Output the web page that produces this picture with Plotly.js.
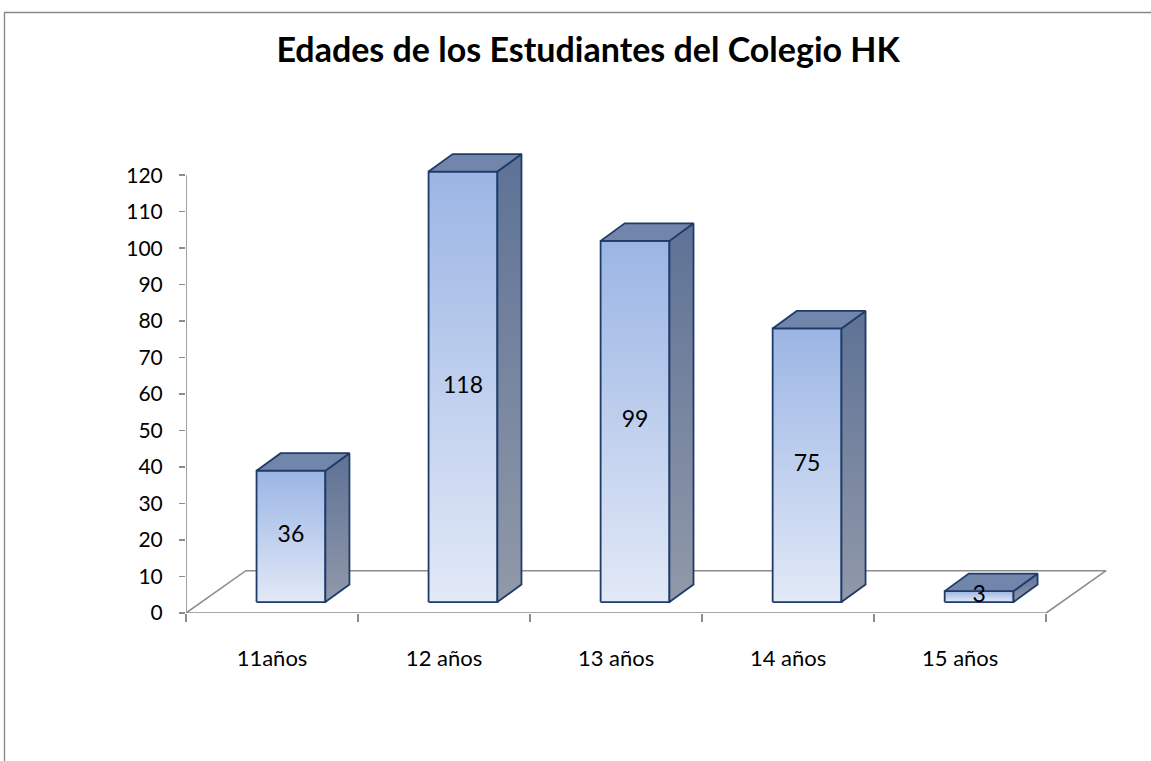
<!DOCTYPE html>
<html>
<head>
<meta charset="utf-8">
<script src="https://cdn.plot.ly/plotly-3.0.1.min.js"></script>
<style>html,body{margin:0;padding:0;background:#fff;}#chart{width:1151px;height:761px;}</style>
</head>
<body>
<div id="chart"></div>
<script>
// ---- data ----
const categories = ['11años', '12 años', '13 años', '14 años', '15 años'];
const values = [36, 118, 99, 75, 3];
const yTickVals = [0, 10, 20, 30, 40, 50, 60, 70, 80, 90, 100, 110, 120];
const chartTitle = 'Edades de los Estudiantes del Colegio HK';

// ---- 3D projection parameters (style) ----
const FLOOR_DX = 0.348, FLOOR_DY = 11.6;   // floor depth offset (axis units)
const BAR_X0 = 0.41, BAR_W = 0.40;          // front face position within category
const BAR_BASE = 3.0;                       // front face sits slightly into the floor
const DEPTH_DX = 0.14, DEPTH_DY = 4.8;      // bar depth offset
const OUTLINE = '#1f3b68';
const FONT = 'Lato, "Open Sans", "Liberation Sans", sans-serif';

const n = categories.length;
const traces = [];

// floor
traces.push({
  type: 'scatter', mode: 'lines', hoverinfo: 'skip', showlegend: false,
  x: [0, n, n + FLOOR_DX, FLOOR_DX, 0],
  y: [0, 0, FLOOR_DY, FLOOR_DY, 0],
  fill: 'toself', fillcolor: '#ffffff',
  line: {color: '#8c8c8c', width: 1.6}
});
// y axis line
traces.push({
  type: 'scatter', mode: 'lines', hoverinfo: 'skip', showlegend: false,
  x: [0, 0], y: [0, yTickVals[yTickVals.length - 1]],
  line: {color: '#8c8c8c', width: 1.6}
});

const tx = [], ty = [], tt = [];
values.forEach((v, i) => {
  const x0 = i + BAR_X0, x1 = x0 + BAR_W;
  const y0 = BAR_BASE, y1 = BAR_BASE + v;
  // front face
  traces.push({
    type: 'scatter', mode: 'lines', hoverinfo: 'skip', showlegend: false,
    x: [x0, x1, x1, x0, x0], y: [y0, y0, y1, y1, y0],
    fill: 'toself',
    fillgradient: {type: 'vertical', start: y0, stop: y1,
      colorscale: [[0, '#e2e9f7'], [1, '#9bb5e4']]},
    line: {color: OUTLINE, width: 1.8}
  });
  // side face
  traces.push({
    type: 'scatter', mode: 'lines', hoverinfo: 'skip', showlegend: false,
    x: [x1, x1 + DEPTH_DX, x1 + DEPTH_DX, x1, x1],
    y: [y0, y0 + DEPTH_DY, y1 + DEPTH_DY, y1, y0],
    fill: 'toself',
    fillgradient: {type: 'vertical', start: y0, stop: y1 + DEPTH_DY,
      colorscale: [[0, '#9199a9'], [1, '#5e7296']]},
    line: {color: OUTLINE, width: 1.8}
  });
  // top face
  traces.push({
    type: 'scatter', mode: 'lines', hoverinfo: 'skip', showlegend: false,
    x: [x0, x1, x1 + DEPTH_DX, x0 + DEPTH_DX, x0],
    y: [y1, y1, y1 + DEPTH_DY, y1 + DEPTH_DY, y1],
    fill: 'toself', fillcolor: '#7286ac',
    line: {color: OUTLINE, width: 1.8}
  });
  tx.push(x0 + BAR_W / 2); ty.push(y0 + v / 2); tt.push(String(v));
});
// value labels
traces.push({
  type: 'scatter', mode: 'text', hoverinfo: 'skip', showlegend: false,
  x: tx, y: ty, text: tt, cliponaxis: false,
  textposition: 'middle center',
  textfont: {family: FONT, size: 23, color: '#000'}
});

const W = 1151, H = 761;
const mL = 186, mR = 36, mT = 146, mB = 148;
const pw = W - mL - mR, ph = H - mT - mB;
const px2paperX = p => (p - mL) / pw;
const px2paperY = p => (H - mB - p) / ph;

const layout = {
  width: W, height: H,
  margin: {l: mL, r: mR, t: mT, b: mB, pad: 0},
  paper_bgcolor: '#ffffff', plot_bgcolor: 'rgba(0,0,0,0)',
  showlegend: false,
  title: {text: '<b>' + chartTitle + '</b>', x: 0.511, xanchor: 'center',
    y: 1 - 50 / H, yanchor: 'middle',
    font: {family: FONT, size: 34, color: '#000'}},
  xaxis: {
    range: [0, 5.4], showgrid: false, zeroline: false, showline: false,
    tickmode: 'array', tickvals: categories.map((c, i) => i + 0.5), ticktext: categories,
    ticks: '', ticklabelstandoff: 30,
    tickfont: {family: FONT, size: 22, color: '#000'},
    minor: {tickmode: 'linear', tick0: 0, dtick: 1, ticks: 'outside', ticklen: 8,
      tickwidth: 1.6, tickcolor: '#8c8c8c', showgrid: false},
    fixedrange: true
  },
  yaxis: {
    range: [0, 128], showgrid: false, zeroline: false, showline: false,
    tickmode: 'array', tickvals: yTickVals, ticktext: yTickVals.map(String),
    ticks: 'outside', ticklen: 6, tickwidth: 1.6, tickcolor: '#8c8c8c',
    ticklabelstandoff: 12,
    tickfont: {family: FONT, size: 21, color: '#000'},
    fixedrange: true
  },
  shapes: [
    {type: 'line', xref: 'paper', yref: 'paper',
      x0: px2paperX(4), x1: px2paperX(W + 5), y0: px2paperY(12.5), y1: px2paperY(12.5),
      line: {color: '#868686', width: 1.3}},
    {type: 'line', xref: 'paper', yref: 'paper',
      x0: px2paperX(4.5), x1: px2paperX(4.5), y0: px2paperY(12), y1: px2paperY(H + 5),
      line: {color: '#868686', width: 1.3}}
  ]
};

Plotly.newPlot('chart', traces, layout, {displayModeBar: false, staticPlot: true});
</script>
</body>
</html>
